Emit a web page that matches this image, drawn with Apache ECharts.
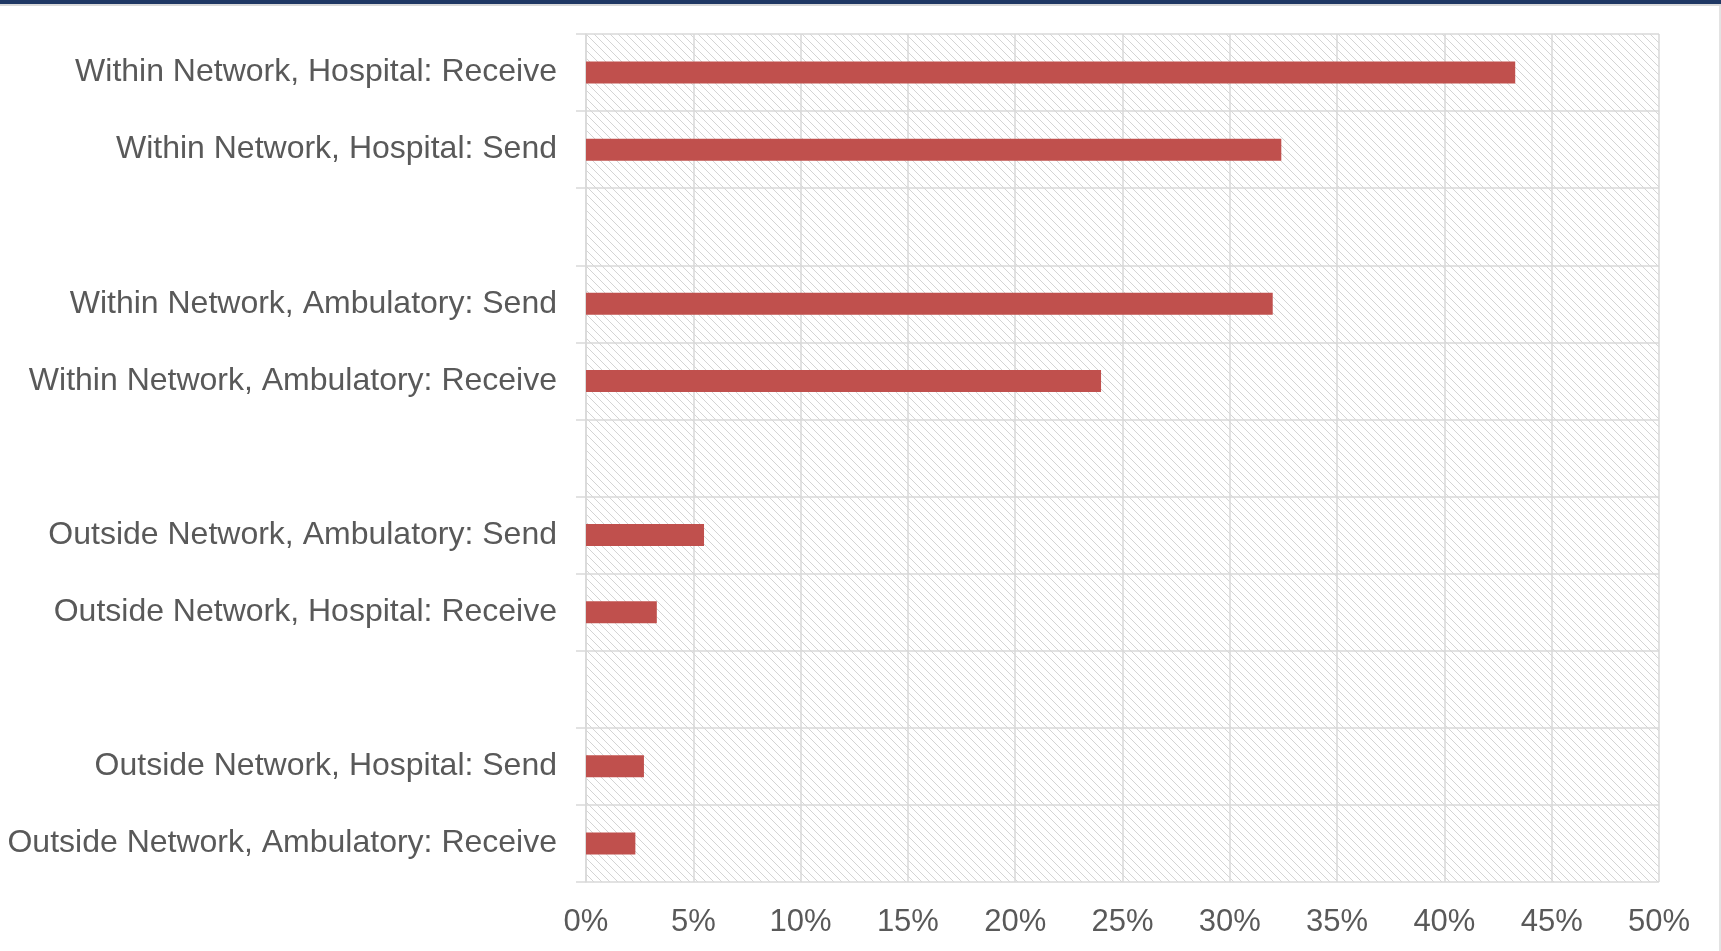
<!DOCTYPE html>
<html lang="en">
	<head>
		<meta charset="UTF-8" />
		<title>Network exchange</title>
		<style>
			html, body { margin: 0; padding: 0; background: #fff; }
			#chart { width: 1721px; height: 951px; }
		</style>
	</head>
	<body>
		<div id="chart"></div>
		<script src="https://cdn.jsdelivr.net/npm/echarts@6/dist/echarts.min.js"></script>
		<script>
			// top to bottom, blank rows are the gaps between groups
			const categories = [
				"Within Network, Hospital: Receive",
				"Within Network, Hospital: Send",
				"",
				"Within Network, Ambulatory: Send",
				"Within Network, Ambulatory: Receive",
				" ",
				"Outside Network, Ambulatory: Send",
				"Outside Network, Hospital: Receive",
				"  ",
				"Outside Network, Hospital: Send",
				"Outside Network, Ambulatory: Receive"
			];
			const shares = [43.3, 32.4, null, 32.0, 24.0, null, 5.5, 3.3, null, 2.7, 2.3];

			// light downward diagonal hatch, like the office pattern fill
			function hatch() {
				const c = document.createElement("canvas");
				c.width = 8;
				c.height = 8;
				const ctx = c.getContext("2d");
				ctx.fillStyle = "#d4d4d4";
				for (let i = 0; i < 8; i++) {
					ctx.fillRect(i, i, 1, 1);
				}
				return c;
			}

			const gridCol = "#d9d9d9";
			const textCol = "#595959";
			const font = "Liberation Sans, Arial, sans-serif";

			const myChart = echarts.init(document.getElementById("chart"));
			myChart.setOption({
				animation: false,
				textStyle: { fontFamily: font },
				graphic: [
					{ type: "rect", shape: { x: 0, y: 0, width: 1721, height: 4 }, style: { fill: "#1f3864" } },
					{ type: "rect", shape: { x: 0, y: 4, width: 1721, height: 2 }, style: { fill: "#d9d9d9" } },
					{ type: "rect", shape: { x: 1719, y: 6, width: 2, height: 945 }, style: { fill: "#e3e3e3" } }
				],
				grid: {
					left: 586,
					top: 34,
					right: 62,
					bottom: 69,
					show: true,
					borderWidth: 0,
					backgroundColor: { image: hatch(), repeat: "repeat" }
				},
				xAxis: {
					type: "value",
					min: 0,
					max: 50,
					interval: 5,
					axisLine: { show: false },
					axisTick: { show: false },
					splitLine: { lineStyle: { color: gridCol, width: 1.5 } },
					axisLabel: {
						formatter: "{value}%",
						color: textCol,
						fontSize: 31,
						margin: 25,
						fontFamily: font
					}
				},
				yAxis: {
					type: "category",
					inverse: true,
					data: categories,
					axisLine: { lineStyle: { color: gridCol, width: 1.5 } },
					axisTick: { show: true, length: 10, lineStyle: { color: gridCol, width: 1.5 } },
					splitLine: { show: true, lineStyle: { color: gridCol, width: 1.5 } },
					axisLabel: {
						color: textCol,
						fontSize: 32,
						margin: 29,
						padding: [8, 0, 0, 0],
						fontFamily: font
					}
				},
				series: [
					{
						type: "bar",
						data: shares,
						barWidth: 22,
						itemStyle: { color: "#c0504d" }
					}
				]
			});
		</script>
	</body>
</html>
